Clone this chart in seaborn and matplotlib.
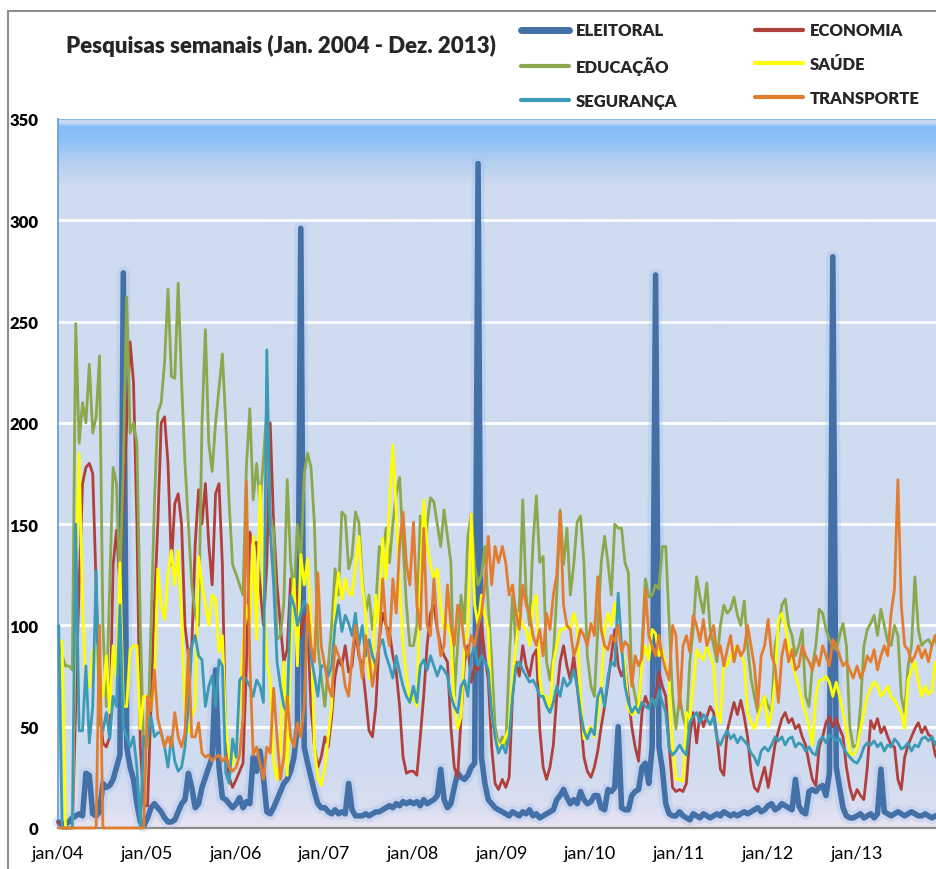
import numpy as np
import pandas as pd
import matplotlib
matplotlib.use("Agg")
import matplotlib.pyplot as plt
import matplotlib.dates as mdates
import matplotlib.patheffects as pe
from matplotlib.lines import Line2D
import seaborn as sns

# ---------------- data ----------------
years = list(range(2004, 2014))
x_tick_labels = ['jan/04', 'jan/05', 'jan/06', 'jan/07', 'jan/08',
                 'jan/09', 'jan/10', 'jan/11', 'jan/12', 'jan/13']
y_ticks = [0, 50, 100, 150, 200, 250, 300, 350]
series_names = ['ELEITORAL', 'ECONOMIA', 'EDUCAÇÃO', 'SAÚDE', 'SEGURANÇA', 'TRANSPORTE']
title = 'Pesquisas semanais (Jan. 2004 - Dez. 2013)'

eleitoral = [
    3, 2, 2, 3, 5, 6, 7, 6, 27, 26, 7, 6, 8, 22, 20, 21, 24, 30, 36, 274, 40, 30, 24, 12, 3, 1,
    5, 10, 12, 10, 8, 5, 3, 3, 4, 8, 12, 14, 27, 20, 10, 12, 20, 25, 30, 35, 78, 30, 15, 14, 12, 10,
    12, 15, 10, 13, 12, 35, 28, 38, 25, 8, 7, 10, 14, 18, 22, 24, 28, 35, 50, 296, 40, 32, 25, 18, 12, 10,
    10, 8, 7, 9, 7, 8, 7, 22, 9, 6, 6, 6, 7, 6, 7, 8, 8, 9, 10, 11, 10, 12, 11, 13, 12, 13,
    12, 13, 11, 14, 12, 13, 14, 16, 29, 14, 10, 12, 20, 27, 25, 24, 26, 30, 32, 328, 35, 22, 14, 12, 10, 9,
    8, 7, 6, 8, 7, 6, 8, 7, 9, 6, 7, 5, 6, 7, 8, 9, 14, 16, 19, 15, 12, 14, 12, 18, 14, 12,
    13, 16, 16, 10, 9, 19, 18, 20, 50, 10, 9, 9, 16, 18, 19, 30, 32, 22, 40, 273, 40, 29, 12, 7, 6, 6,
    8, 6, 5, 4, 7, 6, 5, 7, 6, 5, 6, 7, 6, 8, 7, 6, 7, 6, 7, 8, 7, 8, 9, 10, 8, 9,
    11, 12, 9, 10, 12, 11, 10, 9, 24, 11, 8, 7, 18, 19, 18, 20, 21, 16, 27, 282, 30, 20, 10, 6, 5, 5,
    6, 7, 5, 6, 7, 5, 7, 29, 8, 7, 6, 7, 8, 7, 6, 7, 8, 7, 6, 6, 7, 6, 5, 6, 5, 5,
]
economia = [
    3, 0, 0, 0, 0, 60, 120, 170, 178, 180, 175, 120, 60, 42, 40, 45, 130, 147, 120, 160, 200, 240, 220, 150, 40, 11,
    11, 60, 110, 150, 200, 203, 180, 130, 160, 165, 150, 100, 85, 90, 140, 167, 150, 170, 140, 120, 165, 170, 130, 40, 25, 20,
    24, 28, 32, 80, 146, 140, 141, 120, 100, 130, 200, 150, 120, 100, 82, 88, 123, 124, 110, 95, 105, 100, 60, 40, 30, 35,
    45, 40, 55, 75, 83, 80, 90, 77, 80, 97, 85, 80, 65, 48, 45, 60, 93, 106, 100, 97, 85, 77, 60, 35, 27, 28,
    28, 26, 45, 65, 90, 106, 110, 98, 90, 85, 82, 50, 30, 25, 55, 82, 90, 72, 80, 78, 101, 85, 73, 40, 22, 19,
    24, 20, 25, 65, 82, 75, 90, 80, 75, 85, 88, 49, 30, 24, 30, 41, 65, 82, 90, 80, 73, 85, 70, 55, 35, 28,
    25, 30, 38, 50, 60, 72, 85, 98, 80, 75, 80, 65, 50, 40, 33, 57, 65, 60, 62, 65, 77, 70, 65, 40, 20, 18,
    19, 18, 22, 45, 57, 42, 57, 50, 55, 60, 57, 45, 29, 26, 48, 55, 62, 56, 63, 55, 45, 28, 20, 18, 24, 30,
    20, 30, 41, 48, 54, 57, 52, 54, 49, 51, 45, 41, 32, 24, 21, 40, 45, 52, 55, 50, 54, 49, 45, 30, 20, 14,
    19, 16, 14, 30, 53, 49, 54, 47, 50, 45, 41, 40, 24, 19, 35, 41, 45, 49, 52, 47, 50, 46, 45, 36, 33, 30,
]
educacao = [
    90, 85, 80, 80, 78, 249, 190, 210, 200, 229, 195, 203, 233, 100, 60, 120, 178, 170, 120, 180, 262, 195, 200, 190, 100, 40,
    40, 100, 160, 205, 210, 230, 266, 223, 222, 269, 220, 180, 150, 120, 105, 100, 200, 246, 190, 176, 200, 217, 234, 200, 160, 130,
    125, 120, 115, 179, 207, 162, 180, 160, 182, 207, 155, 147, 93, 95, 111, 172, 131, 115, 150, 130, 175, 185, 178, 150, 90, 75,
    60, 80, 100, 128, 115, 156, 154, 128, 134, 156, 151, 123, 106, 115, 98, 110, 139, 134, 148, 131, 150, 165, 173, 140, 110, 90,
    90, 100, 154, 131, 150, 163, 161, 150, 139, 157, 144, 131, 65, 90, 115, 101, 144, 155, 130, 120, 125, 139, 110, 82, 50, 41,
    45, 41, 82, 115, 90, 110, 162, 115, 100, 140, 164, 131, 134, 82, 73, 85, 115, 157, 130, 148, 115, 130, 151, 154, 131, 85,
    70, 65, 98, 131, 144, 131, 115, 150, 148, 148, 131, 126, 74, 65, 57, 90, 123, 114, 115, 120, 118, 139, 139, 101, 65, 49,
    65, 55, 49, 82, 98, 124, 114, 106, 121, 98, 90, 82, 100, 110, 106, 108, 114, 105, 100, 112, 90, 74, 65, 57, 60, 65,
    60, 57, 90, 98, 110, 113, 100, 95, 85, 90, 98, 65, 60, 80, 90, 108, 106, 98, 93, 90, 88, 95, 101, 90, 50, 40,
    41, 60, 90, 98, 101, 105, 95, 108, 100, 92, 90, 100, 95, 65, 57, 80, 90, 124, 98, 90, 92, 93, 90, 95, 85, 88,
]
saude = [
    93, 92, 0, 0, 0, 120, 185, 110, 68, 70, 87, 90, 66, 65, 85, 57, 90, 75, 131, 60, 60, 88, 90, 90, 49, 65,
    65, 60, 70, 128, 110, 103, 125, 137, 120, 137, 106, 57, 47, 55, 60, 134, 120, 110, 100, 115, 113, 87, 95, 50, 35, 31,
    40, 60, 90, 110, 100, 144, 93, 169, 120, 82, 73, 32, 24, 40, 82, 26, 90, 123, 80, 135, 120, 133, 101, 40, 25, 21,
    30, 45, 60, 110, 126, 113, 123, 116, 115, 130, 144, 120, 106, 74, 80, 115, 100, 143, 123, 160, 189, 156, 120, 90, 74, 62,
    65, 60, 120, 162, 140, 130, 123, 128, 110, 98, 100, 95, 60, 49, 55, 90, 98, 155, 110, 100, 115, 105, 98, 57, 45, 41,
    41, 45, 49, 73, 90, 106, 100, 98, 90, 110, 115, 73, 65, 65, 57, 82, 90, 98, 98, 100, 98, 106, 100, 65, 44, 48,
    50, 45, 55, 70, 98, 106, 100, 111, 97, 90, 80, 59, 56, 57, 60, 82, 90, 83, 98, 96, 85, 88, 80, 73, 40, 24,
    24, 23, 57, 54, 70, 88, 85, 83, 90, 85, 80, 57, 52, 82, 80, 85, 88, 90, 85, 82, 57, 52, 49, 55, 60, 65,
    50, 57, 73, 103, 106, 100, 90, 82, 75, 70, 62, 57, 50, 41, 65, 73, 73, 75, 72, 65, 72, 65, 57, 49, 37, 36,
    40, 49, 57, 65, 69, 72, 70, 65, 67, 70, 65, 63, 60, 57, 49, 73, 78, 82, 72, 65, 70, 66, 68, 82, 72, 68,
]
seguranca = [
    100, 0, 0, 0, 0, 150, 48, 48, 80, 42, 60, 127, 52, 48, 57, 44, 65, 60, 110, 50, 45, 40, 45, 30, 0, 45,
    45, 55, 45, 47, 47, 40, 30, 45, 33, 28, 30, 40, 60, 90, 95, 85, 83, 60, 70, 75, 60, 83, 80, 27, 22, 44,
    35, 73, 75, 73, 70, 65, 73, 70, 62, 236, 147, 120, 82, 70, 60, 57, 115, 110, 100, 106, 112, 108, 85, 75, 65, 80,
    80, 75, 80, 100, 110, 97, 105, 101, 95, 106, 90, 100, 85, 93, 85, 80, 90, 93, 85, 80, 74, 85, 77, 70, 65, 62,
    70, 62, 80, 83, 78, 85, 80, 75, 80, 78, 75, 65, 60, 57, 70, 73, 65, 85, 90, 80, 85, 82, 78, 57, 45, 37,
    41, 37, 45, 65, 80, 82, 78, 75, 72, 73, 70, 65, 65, 60, 57, 62, 70, 65, 74, 70, 72, 78, 70, 57, 48, 44,
    49, 46, 65, 69, 60, 75, 82, 80, 116, 90, 70, 62, 57, 60, 57, 62, 60, 59, 64, 60, 68, 62, 57, 39, 36, 38,
    41, 38, 36, 52, 55, 57, 52, 56, 54, 51, 55, 44, 41, 45, 48, 44, 46, 42, 45, 43, 41, 37, 35, 31, 38, 40,
    38, 41, 45, 43, 45, 41, 44, 45, 40, 42, 41, 38, 40, 37, 36, 43, 45, 42, 46, 45, 43, 44, 40, 37, 35, 33,
    32, 35, 40, 42, 41, 43, 40, 42, 38, 41, 40, 44, 42, 39, 40, 42, 38, 41, 40, 44, 45, 43, 45, 41, 45, 43,
]
transporte = [
    0, 0, 0, 0, 0, 0, 0, 0, 0, 0, 0, 0, 100, 0, 0, 0, 0, 0, 0, 0, 0, 0, 0, 0, 0, 0,
    65, 58, 78, 54, 47, 40, 45, 40, 57, 45, 40, 47, 88, 45, 45, 52, 37, 35, 36, 33, 35, 36, 33, 35, 30, 28,
    30, 36, 55, 171, 82, 36, 40, 32, 24, 40, 37, 69, 45, 24, 35, 65, 45, 40, 52, 45, 60, 110, 90, 82, 126, 90,
    80, 70, 65, 90, 85, 82, 70, 65, 85, 100, 87, 74, 95, 85, 70, 80, 90, 123, 100, 90, 123, 106, 140, 156, 130, 120,
    151, 110, 98, 148, 100, 95, 123, 100, 85, 90, 120, 100, 90, 110, 105, 90, 85, 95, 90, 100, 106, 120, 144, 120, 139, 131,
    139, 131, 115, 120, 106, 98, 120, 110, 106, 95, 90, 98, 85, 106, 98, 115, 125, 156, 110, 100, 98, 85, 90, 98, 95, 90,
    101, 95, 124, 98, 90, 88, 95, 92, 100, 87, 92, 90, 70, 85, 80, 84, 118, 95, 90, 85, 95, 84, 78, 73, 100, 95,
    59, 90, 95, 87, 105, 100, 92, 103, 90, 95, 100, 85, 90, 80, 88, 95, 82, 90, 85, 88, 100, 90, 80, 60, 85, 90,
    103, 85, 80, 62, 85, 93, 82, 88, 78, 80, 90, 85, 82, 78, 85, 80, 90, 85, 80, 93, 90, 85, 80, 82, 78, 74,
    80, 74, 78, 85, 82, 88, 78, 85, 90, 85, 106, 118, 172, 110, 90, 88, 82, 85, 90, 84, 88, 82, 90, 95, 90, 88,
]

# sampling dates (26 samples per year, every 14 days)
dates = [pd.Timestamp(y, 1, 1) + pd.Timedelta(days=3 + 14 * k) for y in years for k in range(26)]
values = {'ELEITORAL': eleitoral, 'ECONOMIA': economia, 'EDUCAÇÃO': educacao,
          'SAÚDE': saude, 'SEGURANÇA': seguranca, 'TRANSPORTE': transporte}
for k, v in values.items():
    assert len(v) == len(dates), (k, len(v))

df = pd.concat([pd.DataFrame({'data': dates, 'valor': values[n], 'serie': n}) for n in series_names],
               ignore_index=True)

colors = {'ELEITORAL': '#4470a8', 'ECONOMIA': '#b1403c', 'EDUCAÇÃO': '#8ba84c',
          'SAÚDE': '#ffff00', 'SEGURANÇA': '#3b9ab6', 'TRANSPORTE': '#e27d30'}
widths = {'ELEITORAL': 4.0, 'ECONOMIA': 2.0, 'EDUCAÇÃO': 2.0,
          'SAÚDE': 2.0, 'SEGURANÇA': 2.0, 'TRANSPORTE': 2.0}

# ---------------- style ----------------
sns.set_style('white')
plt.rcParams['font.family'] = ['Lato', 'DejaVu Sans']

W, H = 936, 870
fig = plt.figure(figsize=(W / 100, H / 100), dpi=100)
fig.patch.set_facecolor('white')

ax_left, ax_right, ax_top, ax_bottom = 58, 945, 120, 829
pos = [ax_left / W, 1 - ax_bottom / H, (ax_right - ax_left) / W, (ax_bottom - ax_top) / H]

# background gradient
bg = fig.add_axes(pos, zorder=0)
nrows = ax_bottom - ax_top
stops = [(0, '#cadcf3'), (4, '#c2d7f2'), (7, '#84bcf9'), (20, '#8dc1f8'),
         (42, '#b3cff1'), (66, '#cfdbef'), (640, '#cfdbef'), (688, '#dadef1'), (nrows, '#e9e4f2')]
sp = np.array([s[0] for s in stops], float)
sc = np.array([matplotlib.colors.to_rgb(s[1]) for s in stops])
rows = np.arange(nrows)
grad = np.stack([np.interp(rows, sp, sc[:, c]) for c in range(3)], axis=1)[:, None, :]
bg.imshow(grad, aspect='auto', extent=(0, 1, 0, 1), interpolation='bilinear')
bg.set_xlim(0, 1)
bg.set_ylim(0, 1)
bg.axis('off')

ax = fig.add_axes(pos, zorder=1)
ax.set_facecolor('none')

draw_order = ['ELEITORAL', 'ECONOMIA', 'EDUCAÇÃO', 'SAÚDE', 'SEGURANÇA', 'TRANSPORTE']
for i, name in enumerate(draw_order):
    sub = df[df['serie'] == name]
    sns.lineplot(data=sub, x='data', y='valor', color=colors[name], linewidth=widths[name],
                 ax=ax, legend=False, estimator=None, sort=True)
    ln = ax.lines[-1]
    ln.set_zorder(3 + i)
    ln.set_clip_on(False)
    ln.set_solid_joinstyle('round')
    ln.set_solid_capstyle('round')
    if name == 'ELEITORAL':
        ln.set_path_effects([pe.Stroke(linewidth=9, foreground=(0.6, 0.72, 0.92, 0.28)), pe.Normal()])

ax.set_xlim(mdates.date2num(pd.Timestamp('2004-01-01')), mdates.date2num(pd.Timestamp('2014-01-01')))
ax.set_ylim(0, 350)
ax.set_xticks([mdates.date2num(pd.Timestamp(y, 1, 1)) for y in years])
ax.set_xticklabels(x_tick_labels, fontsize=13)
ax.set_yticks(y_ticks)
ax.set_yticklabels([str(v) for v in y_ticks], fontweight='heavy', fontsize=12)
ax.set_xlabel('')
ax.set_ylabel('')

ax.grid(axis='y', color='white', linewidth=2)
ax.grid(axis='x', visible=False)
gl = ax.get_ygridlines()
gl[0].set_visible(False)
gl[-1].set_color('#8ab8f0')
gl[-1].set_linewidth(1.5)
for g in gl:
    g.set_zorder(1)

for s in ['top', 'right']:
    ax.spines[s].set_visible(False)
ax.spines['left'].set_color('#6e9ddb')
ax.spines['left'].set_linewidth(1.3)
ax.spines['bottom'].set_color('#8a8a8a')
ax.spines['bottom'].set_linewidth(1.6)
ax.spines['bottom'].set_zorder(2)
ax.tick_params(axis='y', direction='out', length=6, width=1.2, color='#6e9ddb',
               pad=8, labelcolor='black')
ax.tick_params(axis='x', direction='out', length=7, width=1.3, color='#8a8a8a',
               pad=5, labelcolor='black')

# legend
handles = {n: Line2D([0], [0], color=colors[n], lw=(5 if n == 'ELEITORAL' else 3),
                     solid_capstyle='round') for n in series_names}
leg_order = ['ELEITORAL', 'EDUCAÇÃO', 'SEGURANÇA', 'ECONOMIA', 'SAÚDE', 'TRANSPORTE']
fig.legend([handles[n] for n in leg_order], leg_order, ncol=2, loc='upper left',
           bbox_to_anchor=(521 / W, 1 - 23.5 / H), frameon=False, borderpad=0, borderaxespad=0,
           handlelength=2.85, handletextpad=0.45, columnspacing=4.65, labelspacing=1.06,
           prop={'weight': 'heavy', 'size': 12})

fig.text(66 / W, 1 - 46 / H, title, fontsize=16, fontweight='heavy', va='center', ha='left')

# outer chart frame
fig.add_artist(Line2D([8 / W, 8 / W], [0, 1 - 12 / H], transform=fig.transFigure, color='#8c8c8c', lw=1.5))
fig.add_artist(Line2D([8 / W, 1], [1 - 12 / H, 1 - 12 / H], transform=fig.transFigure, color='#8c8c8c', lw=1.5))

fig.savefig('out.png', dpi=100)
